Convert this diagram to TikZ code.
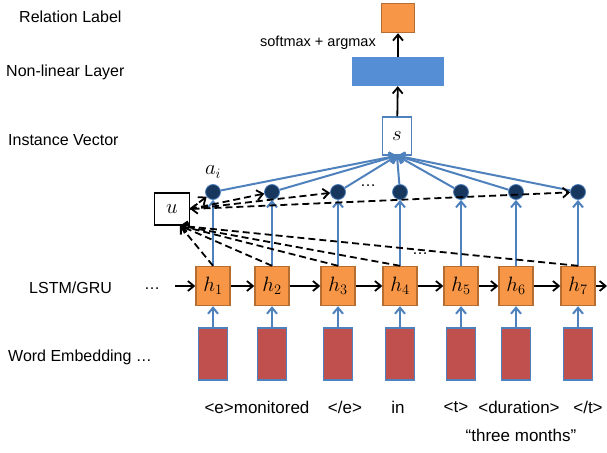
\documentclass[tikz,border=0pt]{standalone}
\usepackage{fontspec}
\setmainfont{Liberation Sans}
\usepackage{tikz}
\usetikzlibrary{arrows.meta,calc}

\definecolor{hidorange}{HTML}{F79646}
\definecolor{hidedge}{HTML}{B66D31}
\definecolor{linkblue}{HTML}{4F81BD}
\definecolor{layerblue}{HTML}{558ED5}
\definecolor{attnavy}{HTML}{17375E}
\definecolor{embred}{HTML}{C0504D}

\tikzset{
  hidbox/.style={draw=hidedge, fill=hidorange, line width=1.4pt, minimum width=34pt, minimum height=39pt, inner sep=0pt, font=\fontsize{20}{22}\selectfont},
  embbox/.style={draw=linkblue, fill=embred, line width=1.3pt, minimum width=29pt, minimum height=52pt, inner sep=0pt},
  attdot/.style={circle, draw=linkblue, fill=attnavy, line width=0.8pt, minimum size=15pt, inner sep=0pt},
  bluearrow/.style={draw=linkblue, line width=2pt, -{Straight Barb[length=6pt,width=10pt]}},
  blackarrow/.style={line width=1.8pt, -{Straight Barb[length=6pt,width=10pt]}},
  dasharrow/.style={line width=1.8pt, dash pattern=on 7pt off 4pt, -{Straight Barb[length=6pt,width=10pt]}},
  rowlabel/.style={anchor=west, inner sep=0pt, font=\fontsize{16}{19}\selectfont},
  wordlabel/.style={inner sep=0pt, font=\fontsize{17}{20}\selectfont},
}

\begin{document}
\begin{tikzpicture}[x=1pt, y=-1pt]
        \useasboundingbox (0, 0) rectangle (607, 452);
        % row labels
        \node [rowlabel] (lrel) at (19, 17) {Relation Label};
        \node [rowlabel] (lnonlin) at (6, 72) {Non-linear Layer};
        \node [rowlabel] (linst) at (8, 140) {Instance Vector};
        \node [rowlabel] (llstm) at (29, 288) {LSTM/GRU};
        \node [rowlabel] (lemb) at (8, 357) {Word Embedding …};
        \node [rowlabel] (ldots) at (144, 289) {…};
        % top of the network
        \node [draw=hidedge, fill=hidorange, line width=1.4pt, minimum width=33pt, minimum height=29pt] (rel) at (398, 18) {};
        \node [fill=layerblue, minimum width=92pt, minimum height=29pt] (nonlin) at (398, 71.5) {};
        \node [draw=linkblue, fill=white, line width=1.4pt, minimum width=29pt, minimum height=38pt, font=\fontsize{20}{22}\selectfont] (svec) at (397, 136) {$s$};
        \node [font=\fontsize{14.5}{17}\selectfont] (sm) at (318, 43) {softmax + argmax};
        \draw [blackarrow] (svec) -- (nonlin);
        \draw [blackarrow] (nonlin) -- (rel);
        \node [draw, fill=white, line width=1.4pt, minimum width=35pt, minimum height=32pt, font=\fontsize{20}{22}\selectfont] (u) at (172, 209) {$u$};
        \node [font=\fontsize{20}{22}\selectfont] (ai) at (213, 172) {$a_i$};
        % one column per word
        \foreach \i/\x in {1/213, 2/272, 3/338, 4/400, 5/461, 6/516, 7/578}{
            \node [attdot] (c\i) at (\x, 192) {};
            \node [hidbox] (h\i) at (\x, 286) {$h_{\i}$};
            \node [embbox] (e\i) at (\x, 354) {};
            \draw [bluearrow] (c\i) -- (svec.south);
            \draw [bluearrow] (h\i) -- (c\i);
            \draw [bluearrow] (e\i) -- (h\i);
        }
        \foreach \i/\j in {1/2, 2/3, 3/4, 4/5, 5/6, 6/7}{
            \draw [blackarrow] (h\i) -- (h\j);
        }
        \coordinate (lin) at (175, 286);
        \coordinate (lout) at (607, 286);
        \draw [blackarrow] (lin) -- (h1);
        \draw [blackarrow] (h7) -- (lout);
        % attention
        \foreach \i in {1, 2, 3}{
            \draw [dasharrow] (u.east) -- (c\i);
        }
        \draw [dasharrow, {Straight Barb[length=6pt,width=10pt]}-{Straight Barb[length=6pt,width=10pt]}] (u.east) -- (c7);
        \foreach \i in {1, 2, 3, 4, 7}{
            \draw [dasharrow] (h\i.north) -- ([xshift=8pt]u.south);
        }
        \node [font=\fontsize{16}{19}\selectfont] (adots) at (368, 186) {…};
        \node [font=\fontsize{16}{19}\selectfont] (hdots) at (420, 254) {…};
        % words
        \node [wordlabel] (w1) at (257, 407) {<e>monitored};
        \node [wordlabel] (w2) at (345, 407) {</e>};
        \node [wordlabel] (w3) at (398, 407) {in};
        \node [wordlabel] (w4) at (456, 407) {<t>};
        \node [wordlabel] (w5) at (519, 407) {<duration>};
        \node [wordlabel] (w6) at (588, 407) {</t>};
        \node [wordlabel] (w7) at (521, 435) {“three months”};
    \end{tikzpicture}
\end{document}
